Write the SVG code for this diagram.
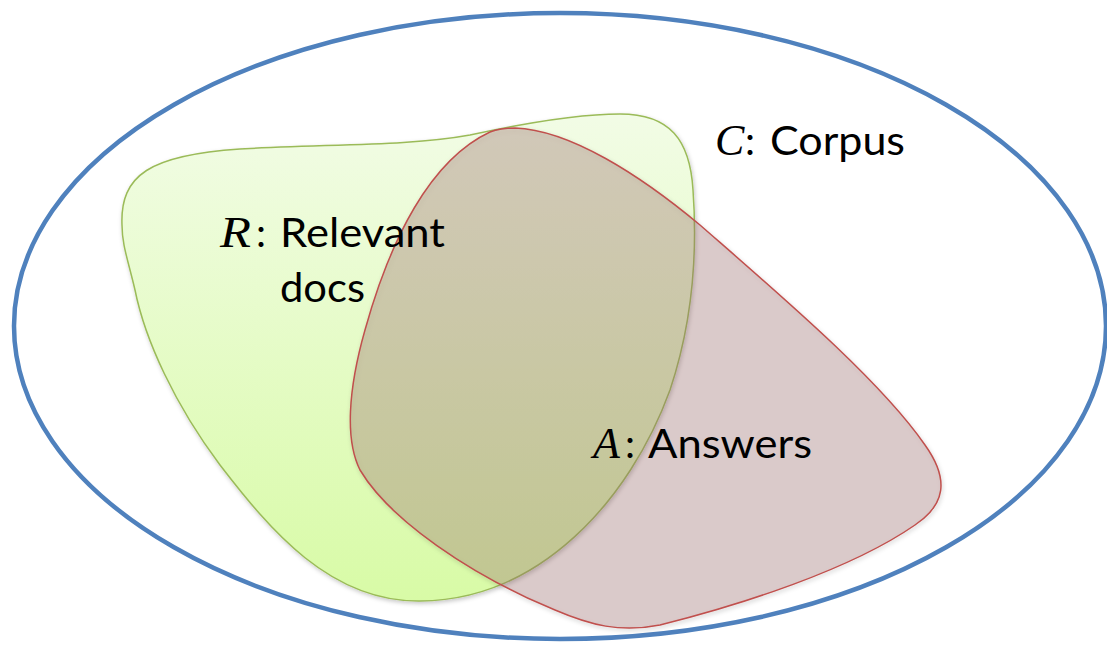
<svg xmlns="http://www.w3.org/2000/svg" width="1107" height="646" viewBox="0 0 1107 646">
<style>
  .word { font-family: Lato, "Open Sans", "Liberation Sans", sans-serif; font-size: 40px; fill: #000; }
  .math { font-family: "Liberation Serif", "DejaVu Serif", serif; font-style: italic; font-size: 44px; fill: #000; }
  .blob { stroke-width: 1.5; filter: url(#shadow); }
</style>
<defs>
  <linearGradient id="greenFill" x1="0" y1="113" x2="0" y2="602" gradientUnits="userSpaceOnUse">
    <stop offset="0" stop-color="#F2FCE6"/>
    <stop offset="1" stop-color="#D8FBA6"/>
  </linearGradient>
  <filter id="shadow" x="-10%" y="-10%" width="120%" height="120%">
    <feDropShadow dx="1" dy="2" stdDeviation="2" flood-color="#000" flood-opacity="0.22"/>
  </filter>
</defs>
<rect width="1107" height="646" fill="#fff"/>
<g id="corpus">
  <ellipse cx="560" cy="326" rx="546" ry="313" fill="none" stroke="#4F81BD" stroke-width="4.5"/>
</g>
<g id="relevant">
  <path class="blob" fill="url(#greenFill)" stroke="#9BBB59" d="M 122,225 C 120,175 150,155 240,149 C 330,144 410,146 470,135 C 530,122 580,114 620,114 C 670,114 690,140 693,190 C 698,260 690,330 670,390 C 630,500 540,600 420,601 C 330,602 270,530 220,465 C 175,405 145,340 135,290 C 128,260 122,245 122,225 Z"/>
</g>
<g id="answers">
  <path class="blob" fill="#9E6C6C" fill-opacity="0.3" stroke="#C0504D" d="M 515,128 C 570,130 640,175 700,225 C 780,295 880,380 925,445 C 950,480 945,505 915,525 C 850,570 740,605 660,625 C 620,633 590,625 555,610 C 470,575 390,520 360,470 C 345,440 348,390 365,330 C 390,240 430,160 490,132 C 500,128 508,128 515,128 Z"/>
</g>
<g id="connectors"></g>
<g id="labels">
  <g id="label-corpus">
    <text class="math" x="715" y="155">C</text>
    <text class="word" x="745" y="155">:</text>
    <text class="word" x="770" y="155" textLength="135" lengthAdjust="spacingAndGlyphs">Corpus</text>
  </g>
  <g id="label-relevant">
    <text class="math" x="220" y="247" textLength="31" lengthAdjust="spacingAndGlyphs">R</text>
    <text class="word" x="256" y="247">:</text>
    <text class="word" x="280" y="247" textLength="165" lengthAdjust="spacingAndGlyphs">Relevant</text>
    <text class="word" x="280" y="302" textLength="85" lengthAdjust="spacingAndGlyphs">docs</text>
  </g>
  <g id="label-answers">
    <text class="math" x="593" y="458">A</text>
    <text class="word" x="625" y="458">:</text>
    <text class="word" x="648" y="458" textLength="164" lengthAdjust="spacingAndGlyphs">Answers</text>
  </g>
</g>
</svg>
